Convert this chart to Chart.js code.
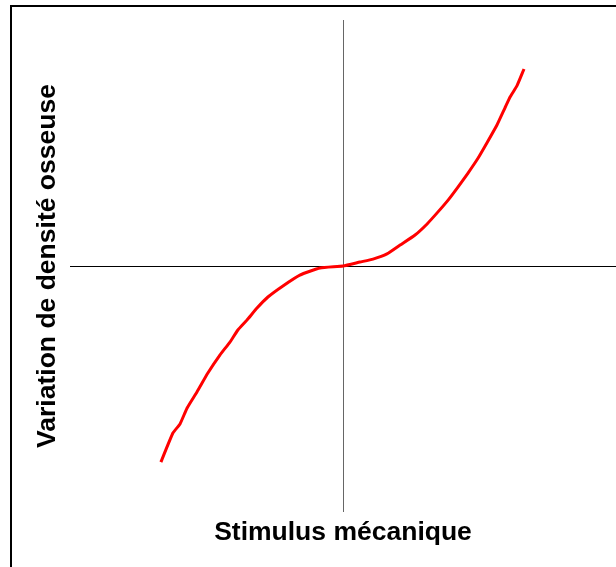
<!DOCTYPE html>
<html lang="fr">
<head>
<meta charset="UTF-8">
<title>Stimulus mécanique</title>
<style>
html, body {
    margin: 0;
    padding: 0;
    background: #fff;
    overflow: hidden;
}
#wrap {
    position: relative;
    width: 616px;
    height: 567px;
}
#frame {
    position: absolute;
    left: 10px;
    top: 5px;
    width: 620px;
    height: 580px;
    border-left: 2px solid #000;
    border-top: 2px solid #000;
    pointer-events: none;
}
#chart {
    position: absolute;
    left: 0;
    top: 0;
}
</style>
</head>
<body>
<div id="wrap">
    <canvas id="chart" width="616" height="567"></canvas>
    <div id="frame"></div>
</div>

<script src="https://cdn.jsdelivr.net/npm/chart.js"></script>
<script>
// stimulus (x) et variation de densité (y), unités arbitraires
const stimulus = [-6.67, -6.23, -5.97, -5.71, -5.35, -4.95, -4.51, -4.14, -3.85, -3.52, -3.15, -2.75, -2.20, -1.58, -0.84, 0,
                  0.62, 1.10, 1.61, 2.09, 2.64, 3.08, 3.48, 3.85, 4.21, 4.58, 4.95, 5.27, 5.64, 5.93, 6.12, 6.37, 6.63];
const densite = [-7.97, -6.79, -6.42, -5.77, -5.12, -4.35, -3.62, -3.09, -2.60, -2.20, -1.71, -1.26, -0.81, -0.37, -0.08, 0,
                 0.16, 0.28, 0.49, 0.85, 1.26, 1.71, 2.20, 2.68, 3.21, 3.78, 4.39, 5.00, 5.73, 6.42, 6.87, 7.32, 8.01];
const xTitle = 'Stimulus mécanique';
const yTitle = 'Variation de densité osseuse';

const titleFont = { family: '"Liberation Sans", Arial, sans-serif', size: 26.5, weight: 'bold' };

const ctx = document.getElementById('chart').getContext('2d');
new Chart(ctx, {
    type: 'scatter',
    data: {
        datasets: [{
            data: stimulus.map((x, i) => ({ x: x, y: densite[i] })),
            showLine: true,
            borderColor: '#ff0000',
            borderWidth: 3,
            pointRadius: 0,
            tension: 0.15,
            fill: false
        }]
    },
    options: {
        responsive: false,
        animation: false,
        layout: { padding: { left: 27.6, top: 20, right: 0, bottom: 14.7 } },
        plugins: {
            legend: { display: false },
            tooltip: { enabled: false }
        },
        scales: {
            x: {
                type: 'linear',
                min: -10,
                max: 10,
                ticks: { display: false, stepSize: 5 },
                border: { display: false },
                grid: {
                    drawTicks: false,
                    lineWidth: 1,
                    color: (c) => c.tick && c.tick.value === 0 ? '#666' : 'rgba(0,0,0,0)'
                },
                title: {
                    display: true,
                    text: xTitle,
                    color: '#000',
                    font: titleFont,
                    padding: { top: 4.5, bottom: 4 }
                }
            },
            y: {
                type: 'linear',
                min: -10,
                max: 10,
                ticks: { display: false, stepSize: 5 },
                border: { display: false },
                grid: {
                    drawTicks: false,
                    lineWidth: 1,
                    color: (c) => c.tick && c.tick.value === 0 ? '#000' : 'rgba(0,0,0,0)'
                },
                title: {
                    display: true,
                    text: yTitle,
                    color: '#000',
                    font: titleFont,
                    padding: { top: 4, bottom: 6.6 }
                }
            }
        }
    }
});
</script>
</body>
</html>
